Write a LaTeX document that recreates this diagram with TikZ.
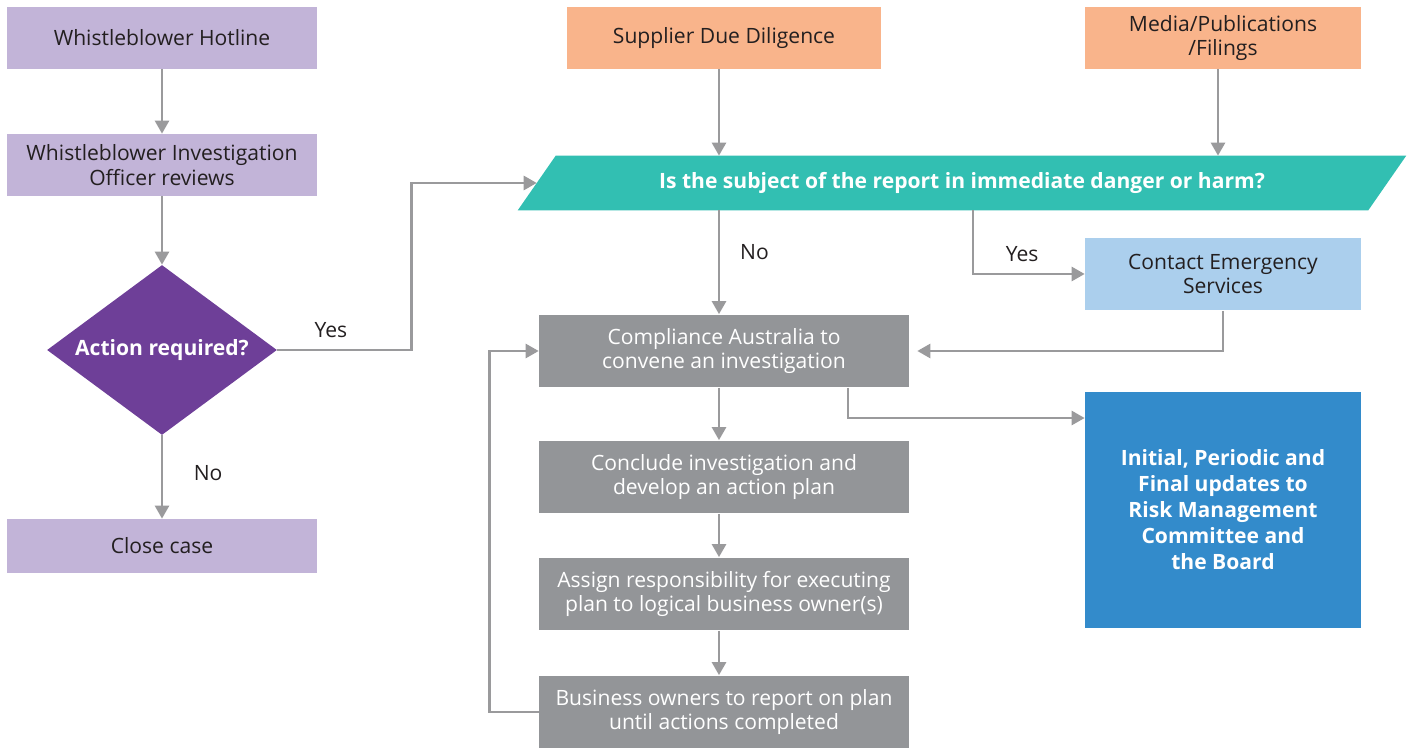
\documentclass[tikz,border=0pt]{standalone}
\usepackage{fontspec}
\setmainfont{Open Sans}
\usetikzlibrary{arrows.meta,positioning,shapes.geometric,calc,backgrounds}

\definecolor{lilac}{HTML}{C2B4D8}
\definecolor{plum}{HTML}{6E3F98}
\definecolor{peach}{HTML}{F9B48B}
\definecolor{teal}{HTML}{32BFB2}
\definecolor{slate}{HTML}{939598}
\definecolor{sky}{HTML}{ABCFED}
\definecolor{ocean}{HTML}{338BCB}
\definecolor{wire}{HTML}{9A9A9C}
\definecolor{ink}{HTML}{231F20}

\begin{document}
\begin{tikzpicture}[x=0.02cm,y=-0.02cm,
  >={Triangle[length=2.6mm,width=2.8mm]},
  bx/.style={rectangle,inner sep=2pt,align=center,font=\fontsize{12}{14}\selectfont,
    minimum width=6.22cm,minimum height=1.24cm},
  pu/.style={bx,fill=lilac,text=ink},
  og/.style={bx,fill=peach,text=ink,minimum width=6.3cm},
  gr/.style={bx,fill=slate,text=white,minimum width=7.4cm,minimum height=1.46cm},
  ar/.style={->,wire,line width=1.5pt},
  lf/.style={transform canvas={xshift=-0.1cm}},
  lb/.style={font=\fontsize{12}{14}\selectfont,text=ink}]
  \useasboundingbox (0,0) rectangle (1414,749);

  % left column
  \node[pu] (hot) at (162,38) {Whistleblower Hotline};
  \node[pu] (wio) at (162,165) {Whistleblower Investigation\\Officer reviews};
  \node[diamond,fill=plum,text=white,font=\bfseries\fontsize{12}{14}\selectfont,
    minimum width=4.6cm,minimum height=3.4cm,inner sep=0pt,aspect=1.35] (act) at (162,350) {Action required?};
  \node[pu,minimum height=1.08cm] (cls) at (162,546) {Close case};

  % sources
  \node[og] (sup) at (724,38) {Supplier Due Diligence};
  \node[og,minimum width=5.52cm] (med) at (1223,38) {Media/Publications\\/Filings};

  % question
  \node[rectangle,text=white,font=\bfseries\fontsize{12}{14}\selectfont,
    minimum width=17cm,minimum height=1.08cm,inner sep=0pt] (q) at (962,183)
    {Is the subject of the report in immediate danger or harm?};
  \begin{scope}[on background layer]
    \fill[teal] ($(q.south west)+(-19,0)$) -- ($(q.south east)+(-19,0)$)
      -- ($(q.north east)+(19,0)$) -- ($(q.north west)+(19,0)$) -- cycle;
  \end{scope}
  \coordinate (qy) at (973,210);

  % right column
  \node[bx,fill=sky,text=ink,minimum width=5.52cm,minimum height=1.46cm] (emg) at (1223,274)
    {Contact Emergency\\Services};
  \node[bx,fill=ocean,text=white,font=\bfseries\fontsize{12}{14.8}\selectfont,
    minimum width=5.52cm,minimum height=4.74cm] (upd) at (1223,510)
    {Initial, Periodic and\\Final updates to\\Risk Management\\Committee and\\the Board};

  % investigation chain
  \node[gr] (cmp) at (724,351) {Compliance Australia to\\convene an investigation};
  \node[gr] (ccl) at (724,477) {Conclude investigation and\\develop an action plan};
  \node[gr] (asg) at (724,594) {Assign responsibility for executing\\plan to logical business owner(s)};
  \node[gr] (biz) at (724,712) {Business owners to report on plan\\until actions completed};

  % connectors
  \draw[ar] (hot) -- (wio);
  \draw[ar] (wio) -- (act);
  \draw[ar] (act) -- node[lb,right=14pt,pos=0.45]{No} (cls);
  \draw[ar] (act.east) -- node[lb,above=3pt,pos=0.4]{Yes} ++(134,0) |- (q.west);
  \draw[ar,lf] (sup) -- (sup |- q.north);
  \draw[ar,lf] (med) -- (med |- q.north);
  \draw[ar,lf] (sup |- q.south) -- node[lb,right=8pt,pos=0.4]{No} (cmp);
  \draw[ar] (qy) |- node[lb,above=3pt,pos=0.72]{Yes} (emg.west);
  \draw[ar,shorten >=0.16cm] (emg.south) |- (cmp.east);
  \draw[ar] ([xshift=2.48cm]cmp.south) |- ([yshift=1.84cm]upd.west);
  \draw[ar,lf] (cmp) -- (ccl);
  \draw[ar,lf] (ccl) -- (asg);
  \draw[ar,lf] (asg) -- (biz);
  \draw[ar] (biz.west) -- ++(-49,0) |- (cmp.west);
\end{tikzpicture}
\end{document}
